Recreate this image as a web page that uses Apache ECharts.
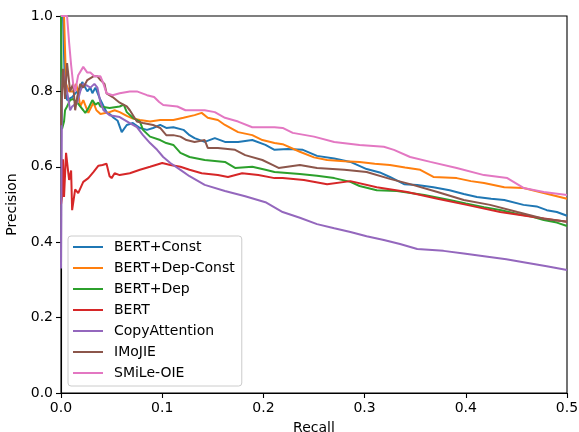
<!DOCTYPE html>
<html>
<head>
<meta charset="utf-8">
<script src="https://cdn.jsdelivr.net/npm/echarts@6/dist/echarts.min.js"></script>
<style>
html,body{margin:0;padding:0;background:#fff;}
#chart{width:579px;height:432px;}
</style>
</head>
<body>
<div id="chart"></div>
<script>
// ---- data (recall, precision) ----
const seriesNames = ["BERT+Const","BERT+Dep-Const","BERT+Dep","BERT","CopyAttention","IMoJIE","SMiLe-OIE"];
const seriesColors = ["#1f77b4","#ff7f0e","#2ca02c","#d62728","#9467bd","#8c564b","#e377c2"];
const xTicks = [0.0,0.1,0.2,0.3,0.4,0.5];
const yTicks = [0.0,0.2,0.4,0.6,0.8,1.0];

const bertConst = [[0,1.0],[0.002,1.0],[0.004,0.80],[0.006,0.777],[0.011,0.785],[0.016,0.80],[0.019,0.81],[0.021,0.825],[0.026,0.80],[0.029,0.81],[0.031,0.795],[0.034,0.81],[0.037,0.79],[0.039,0.777],[0.045,0.745],[0.048,0.74],[0.052,0.73],[0.056,0.722],[0.06,0.692],[0.065,0.711],[0.071,0.716],[0.078,0.703],[0.085,0.698],[0.091,0.703],[0.098,0.711],[0.104,0.703],[0.111,0.705],[0.121,0.698],[0.127,0.684],[0.132,0.676],[0.142,0.666],[0.152,0.676],[0.162,0.666],[0.175,0.666],[0.189,0.671],[0.202,0.658],[0.211,0.645],[0.224,0.647],[0.239,0.645],[0.253,0.629],[0.27,0.622],[0.286,0.613],[0.302,0.594],[0.315,0.585],[0.325,0.573],[0.339,0.554],[0.352,0.552],[0.368,0.546],[0.384,0.538],[0.398,0.528],[0.411,0.52],[0.425,0.515],[0.438,0.512],[0.457,0.499],[0.47,0.495],[0.48,0.485],[0.49,0.48],[0.5,0.47]];

const bertDepConst = [[0,1.0],[0.003,1.0],[0.005,0.82],[0.008,0.80],[0.012,0.80],[0.015,0.82],[0.017,0.795],[0.019,0.76],[0.022,0.777],[0.027,0.743],[0.032,0.77],[0.035,0.75],[0.039,0.74],[0.048,0.745],[0.053,0.75],[0.058,0.745],[0.065,0.735],[0.071,0.728],[0.078,0.724],[0.088,0.72],[0.098,0.724],[0.111,0.724],[0.121,0.73],[0.132,0.737],[0.139,0.743],[0.145,0.73],[0.155,0.724],[0.162,0.711],[0.175,0.692],[0.189,0.684],[0.199,0.671],[0.211,0.663],[0.219,0.66],[0.236,0.64],[0.25,0.625],[0.263,0.618],[0.28,0.615],[0.295,0.613],[0.31,0.608],[0.325,0.605],[0.34,0.598],[0.355,0.592],[0.368,0.573],[0.391,0.57],[0.405,0.562],[0.418,0.557],[0.438,0.546],[0.457,0.544],[0.47,0.535],[0.485,0.525],[0.5,0.515]];

const bertDep = [[0,1.0],[0.001,0.70],[0.003,0.72],[0.004,0.75],[0.006,0.76],[0.009,0.777],[0.012,0.78],[0.016,0.77],[0.019,0.76],[0.022,0.75],[0.024,0.743],[0.027,0.755],[0.031,0.777],[0.034,0.765],[0.037,0.77],[0.039,0.76],[0.048,0.756],[0.058,0.76],[0.062,0.765],[0.065,0.745],[0.071,0.73],[0.078,0.72],[0.081,0.698],[0.088,0.68],[0.098,0.671],[0.104,0.663],[0.111,0.658],[0.118,0.637],[0.127,0.626],[0.142,0.618],[0.162,0.613],[0.172,0.597],[0.189,0.6],[0.202,0.592],[0.211,0.586],[0.236,0.581],[0.253,0.576],[0.27,0.57],[0.286,0.56],[0.295,0.549],[0.312,0.538],[0.332,0.536],[0.359,0.525],[0.384,0.512],[0.4,0.503],[0.418,0.493],[0.435,0.485],[0.451,0.475],[0.465,0.468],[0.477,0.459],[0.49,0.452],[0.5,0.443]];

const bert = [[0,0.5],[0.001,0.52],[0.002,0.62],[0.003,0.52],[0.005,0.637],[0.008,0.565],[0.01,0.59],[0.011,0.485],[0.014,0.54],[0.017,0.53],[0.022,0.56],[0.027,0.57],[0.032,0.586],[0.037,0.603],[0.041,0.605],[0.045,0.608],[0.048,0.575],[0.05,0.57],[0.053,0.583],[0.058,0.578],[0.068,0.583],[0.078,0.592],[0.088,0.6],[0.1,0.61],[0.108,0.605],[0.118,0.6],[0.127,0.592],[0.139,0.583],[0.155,0.578],[0.165,0.573],[0.179,0.583],[0.195,0.578],[0.211,0.57],[0.219,0.57],[0.24,0.565],[0.263,0.554],[0.286,0.562],[0.312,0.546],[0.342,0.533],[0.372,0.515],[0.401,0.499],[0.434,0.48],[0.467,0.467],[0.5,0.454]];

const copyAttention = [[0,0.33],[0.001,0.80],[0.002,0.857],[0.004,0.83],[0.006,0.80],[0.009,0.75],[0.011,0.76],[0.016,0.77],[0.019,0.80],[0.022,0.82],[0.026,0.815],[0.029,0.81],[0.033,0.82],[0.036,0.81],[0.039,0.77],[0.042,0.75],[0.048,0.737],[0.058,0.732],[0.068,0.716],[0.075,0.705],[0.081,0.684],[0.088,0.663],[0.095,0.645],[0.101,0.626],[0.108,0.61],[0.118,0.592],[0.127,0.575],[0.142,0.552],[0.162,0.536],[0.182,0.522],[0.202,0.506],[0.219,0.48],[0.236,0.465],[0.253,0.448],[0.27,0.437],[0.286,0.427],[0.302,0.416],[0.319,0.406],[0.335,0.395],[0.352,0.382],[0.378,0.377],[0.398,0.37],[0.418,0.363],[0.44,0.355],[0.457,0.347],[0.48,0.336],[0.5,0.326]];

const imojie = [[0,0.71],[0.001,0.80],[0.002,0.86],[0.004,0.78],[0.006,0.875],[0.009,0.80],[0.012,0.82],[0.014,0.75],[0.016,0.785],[0.019,0.82],[0.022,0.81],[0.026,0.83],[0.032,0.84],[0.036,0.84],[0.039,0.83],[0.043,0.82],[0.045,0.795],[0.051,0.785],[0.058,0.77],[0.065,0.76],[0.068,0.75],[0.075,0.72],[0.081,0.716],[0.091,0.711],[0.098,0.703],[0.104,0.684],[0.111,0.684],[0.118,0.68],[0.124,0.671],[0.132,0.666],[0.142,0.671],[0.145,0.65],[0.155,0.65],[0.172,0.645],[0.182,0.631],[0.199,0.618],[0.209,0.605],[0.215,0.597],[0.236,0.605],[0.253,0.597],[0.28,0.592],[0.302,0.586],[0.325,0.568],[0.345,0.554],[0.372,0.533],[0.398,0.512],[0.424,0.499],[0.451,0.48],[0.477,0.462],[0.5,0.454]];

const smileOie = [[0,1.0],[0.006,1.0],[0.008,0.93],[0.01,0.87],[0.012,0.82],[0.014,0.80],[0.017,0.843],[0.022,0.865],[0.026,0.85],[0.029,0.85],[0.033,0.84],[0.036,0.84],[0.039,0.84],[0.042,0.82],[0.045,0.795],[0.051,0.79],[0.058,0.795],[0.068,0.80],[0.075,0.80],[0.085,0.79],[0.092,0.785],[0.097,0.772],[0.101,0.764],[0.115,0.76],[0.123,0.75],[0.142,0.75],[0.152,0.745],[0.162,0.73],[0.175,0.72],[0.189,0.705],[0.211,0.705],[0.219,0.703],[0.229,0.69],[0.25,0.68],[0.27,0.666],[0.295,0.658],[0.319,0.653],[0.329,0.645],[0.345,0.626],[0.365,0.613],[0.391,0.597],[0.418,0.578],[0.441,0.57],[0.457,0.544],[0.477,0.533],[0.5,0.525]];

const seriesData = [bertConst, bertDepConst, bertDep, bert, copyAttention, imojie, smileOie];

// ---- chart ----
const chart = echarts.init(document.getElementById('chart'), null, {renderer:'canvas'});
const FONT = 'DejaVu Sans';
const fmt = v => v.toFixed(1);

const option = {
  animation: false,
  backgroundColor: '#fff',
  textStyle: {fontFamily: FONT},
  grid: {left: 61, right: 12, top: 16, bottom: 39, containLabel: false, outerBoundsMode: 'none',
         show: true, borderColor: '#000', borderWidth: 1.1, backgroundColor: 'transparent'},
  xAxis: {
    type: 'value', min: xTicks[0], max: xTicks[xTicks.length-1], interval: 0.1,
    name: 'Recall', nameLocation: 'middle', nameGap: 28,
    nameTextStyle: {fontSize: 14, color: '#000', fontFamily: FONT},
    axisLine: {show: true, onZero: false, lineStyle: {color: '#000', width: 1.1}},
    axisTick: {show: true, inside: false, length: 5, lineStyle: {color: '#000', width: 1.1}},
    axisLabel: {fontSize: 14, color: '#000', margin: 8, formatter: fmt, fontFamily: FONT},
    splitLine: {show: false}
  },
  yAxis: {
    type: 'value', min: yTicks[0], max: yTicks[yTicks.length-1], interval: 0.2,
    name: 'Precision', nameLocation: 'middle', nameGap: 37,
    nameTextStyle: {fontSize: 14, color: '#000', fontFamily: FONT},
    axisLine: {show: true, onZero: false, lineStyle: {color: '#000', width: 1.1}},
    axisTick: {show: true, inside: false, length: 5, lineStyle: {color: '#000', width: 1.1}},
    axisLabel: {fontSize: 14, color: '#000', margin: 8, formatter: fmt, fontFamily: FONT},
    splitLine: {show: false}
  },
  legend: {
    orient: 'vertical', left: 68, top: 236,
    icon: 'rect', itemWidth: 30, itemHeight: 2, itemGap: 7,
    padding: [4, 7, 6, 5],
    backgroundColor: 'rgba(255,255,255,0.8)', borderColor: '#cccccc', borderWidth: 1, borderRadius: 3,
    textStyle: {fontSize: 14, color: '#000', lineHeight: 14, fontFamily: FONT, padding: [0,0,0,6]},
    data: seriesNames
  },
  series: seriesNames.map((name, i) => ({
    name: name,
    type: 'line',
    data: seriesData[i],
    showSymbol: false,
    symbol: 'none',
    color: seriesColors[i],
    lineStyle: {width: 2, color: seriesColors[i]},
    clip: true,
    z: 2 + i
  }))
};
chart.setOption(option);
</script>
</body>
</html>
